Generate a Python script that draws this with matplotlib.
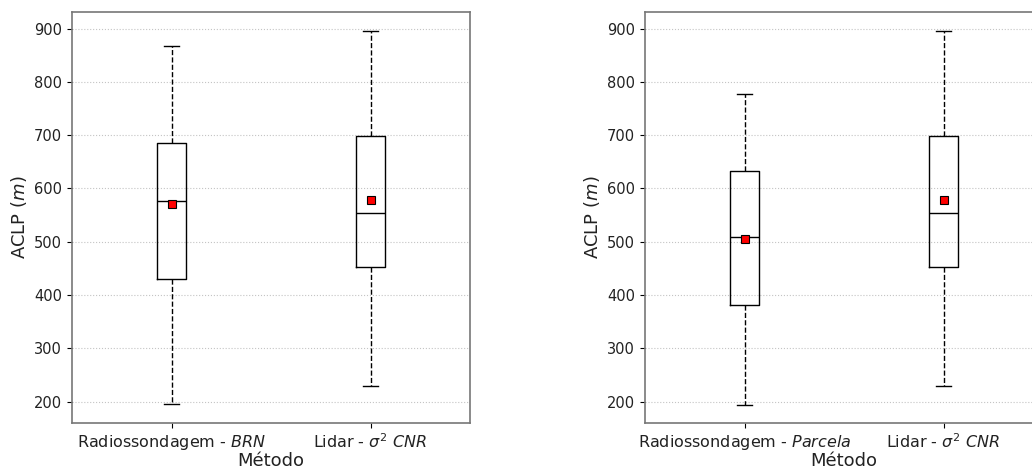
import matplotlib.pyplot as plt

# estatisticas (m)
metodos_esq = ['Radiossondagem - $BRN$', 'Lidar - $\\sigma^2$ $CNR$']
metodos_dir = ['Radiossondagem - $Parcela$', 'Lidar - $\\sigma^2$ $CNR$']

brn = dict(whislo=195, q1=431, med=576, q3=686, whishi=867, mean=570)
parcela = dict(whislo=194, q1=382, med=508, q3=632, whishi=777, mean=505)
lidar = dict(whislo=229, q1=453, med=554, q3=699, whishi=896, mean=578)

fig = plt.figure(figsize=(10.32, 4.71), dpi=100)
ax1 = fig.add_axes([0.0698, 0.1019, 0.3857, 0.8726])
ax2 = fig.add_axes([0.625, 0.1019, 0.3857, 0.8726])

for ax, rs, labels in [(ax1, brn, metodos_esq), (ax2, parcela, metodos_dir)]:
    stats = []
    for s, lab in zip([rs, lidar], labels):
        d = dict(s)
        d['label'] = lab
        d['fliers'] = []
        stats.append(d)
    ax.bxp(stats, showmeans=True, widths=0.15,
           boxprops=dict(color='black', linewidth=1),
           medianprops=dict(color='black', linewidth=1),
           whiskerprops=dict(color='black', linewidth=1, linestyle='--'),
           capprops=dict(color='black', linewidth=1),
           meanprops=dict(marker='s', markerfacecolor='red',
                          markeredgecolor='black', markersize=5.5,
                          markeredgewidth=0.8))
    ax.set_xlim(0.5, 2.5)
    ax.set_ylim(160, 931)
    ax.set_yticks([200, 300, 400, 500, 600, 700, 800, 900])
    ax.yaxis.grid(True, linestyle=':', color='#c4c4c4', linewidth=0.8)
    ax.set_axisbelow(True)
    ax.tick_params(axis='y', labelsize=10.5, labelcolor='#222222')
    ax.tick_params(axis='x', labelsize=11.5, labelcolor='#222222')
    ax.set_ylabel('ACLP ($m$)', fontsize=13, color='#222222')
    ax.set_xlabel('Método', fontsize=13, labelpad=0, color='#222222')
    for sp in ax.spines.values():
        sp.set_color('#777777')
        sp.set_linewidth(1.2)

fig.savefig('out.png', dpi=100)
